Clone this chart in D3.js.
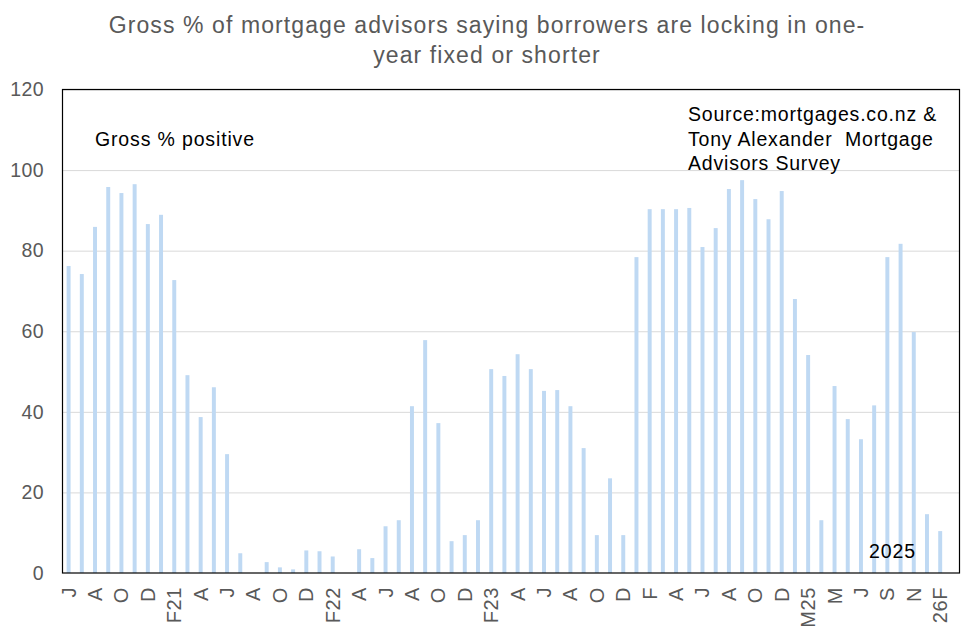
<!DOCTYPE html>
<html>
<head>
<meta charset="utf-8">
<script src="https://cdn.jsdelivr.net/npm/d3@7"></script>
<style>
  body { margin: 0; background: #fff; }
  svg { font-family: "Liberation Sans", Arial, sans-serif; }
</style>
</head>
<body>
<svg id="chart" width="976" height="637"></svg>
<script>
// gross % positive, monthly from Jun 2020 to early 2026
const values = [
  76.2, 74.2, 85.9, 95.8, 94.3, 96.5, 86.6, 88.9, 72.7, 49.1,
  38.7, 46.1, 29.5, 4.9, 0, 2.7, 1.4, 0.9, 5.6, 5.4,
  4.1, 0, 5.9, 3.7, 11.6, 13.1, 41.4, 57.8, 37.2, 7.9,
  9.4, 13.1, 50.6, 48.9, 54.3, 50.6, 45.2, 45.4, 41.4, 31.0,
  9.4, 23.5, 9.4, 78.4, 90.3, 90.3, 90.3, 90.6, 80.9, 85.6,
  95.3, 97.5, 92.8, 87.8, 94.8, 68.0, 54.1, 13.1, 46.4, 38.2,
  33.2, 41.6, 78.4, 81.7, 59.8, 14.6, 10.4
];

// one label on every second bar
const tickLabels = [
  "J", "A", "O", "D", "F21", "A", "J", "A", "O", "D", "F22",
  "A", "J", "A", "O", "D", "F23", "A", "J", "A", "O", "D",
  "F", "A", "J", "A", "O", "D", "M25", "M", "J", "S", "N", "26F"
];

const yTicks = [0, 20, 40, 60, 80, 100, 120];

const titleLines = [
  "Gross % of mortgage advisors saying borrowers are locking in one-",
  "year fixed or shorter"
];
const sourceLines = [
  "Source:mortgages.co.nz &",
  "Tony Alexander  Mortgage",
  "Advisors Survey"
];

var svg = d3.select("#chart"),
  margin = { top: 89.5, right: 16, bottom: 64, left: 62 },
  width = +svg.attr("width"),
  height = +svg.attr("height");

const grey = "#595959";

// spare empty slot at the end, like the original sheet
const x = d3
  .scaleBand()
  .domain(d3.range(values.length + 1))
  .range([margin.left, width - margin.right])
  .paddingInner(0.7)
  .paddingOuter(0.35);

const y = d3
  .scaleLinear()
  .domain([0, 120])
  .range([height - margin.bottom, margin.top]);

// title
svg
  .append("g")
  .selectAll("text")
  .data(titleLines)
  .enter()
  .append("text")
  .attr("x", 487)
  .attr("y", (d, i) => 33 + i * 29.5)
  .attr("text-anchor", "middle")
  .attr("fill", grey)
  .attr("font-size", 23)
  .attr("letter-spacing", 1.1)
  .text((d) => d);

// gridlines
svg
  .append("g")
  .selectAll("line")
  .data(yTicks.slice(1))
  .enter()
  .append("line")
  .attr("x1", margin.left)
  .attr("x2", width - margin.right)
  .attr("y1", (d) => y(d) + 0.5)
  .attr("y2", (d) => y(d) + 0.5)
  .attr("stroke", "#d9d9d9")
  .attr("stroke-width", 1);

// bars
svg
  .append("g")
  .selectAll("rect")
  .data(values)
  .enter()
  .append("rect")
  .attr("x", (d, i) => x(i))
  .attr("y", (d) => y(d))
  .attr("width", x.bandwidth())
  .attr("height", (d) => y(0) - y(d))
  .attr("fill", "#bfd9f3");

// plot frame
svg
  .append("rect")
  .attr("x", margin.left + 0.5)
  .attr("y", margin.top)
  .attr("width", width - margin.right - margin.left - 1)
  .attr("height", y(0) - margin.top)
  .attr("fill", "none")
  .attr("stroke", "#000")
  .attr("stroke-width", 1.2);

// y axis
const yAxis = svg
  .append("g")
  .attr("transform", `translate(${margin.left},0)`)
  .call(d3.axisLeft(y).tickValues(yTicks).tickSize(0).tickPadding(18));
yAxis.select(".domain").remove();
yAxis
  .selectAll("text")
  .attr("font-size", 19.5)
  .attr("letter-spacing", 0.4)
  .attr("font-family", "Liberation Sans, Arial, sans-serif")
  .attr("fill", grey);

// x axis, rotated labels
const xAxis = svg
  .append("g")
  .attr("transform", `translate(0,${y(0)})`)
  .call(
    d3
      .axisBottom(x)
      .tickValues(d3.range(0, values.length, 2))
      .tickFormat((i) => tickLabels[i / 2])
      .tickSize(0)
  );
xAxis.select(".domain").remove();
xAxis
  .selectAll("text")
  .attr("font-size", 20)
  .attr("letter-spacing", 0.6)
  .attr("font-family", "Liberation Sans, Arial, sans-serif")
  .attr("fill", grey)
  .attr("text-anchor", "end")
  .attr("y", 0)
  .attr("dy", "0.35em")
  .attr("transform", "translate(0,14) rotate(-90)");

// annotations
svg
  .append("text")
  .attr("x", 95)
  .attr("y", 146)
  .attr("font-size", 19.5)
  .attr("letter-spacing", 0.85)
  .attr("fill", "#000")
  .text("Gross % positive");

svg
  .append("g")
  .selectAll("text")
  .data(sourceLines)
  .enter()
  .append("text")
  .attr("x", 688)
  .attr("y", (d, i) => 121 + i * 24.7)
  .attr("font-size", 19.5)
  .attr("letter-spacing", 0.8)
  .attr("fill", "#000")
  .style("white-space", "pre")
  .text((d) => d);

svg
  .append("text")
  .attr("x", 869)
  .attr("y", 558)
  .attr("font-size", 19.5)
  .attr("letter-spacing", 0.9)
  .attr("fill", "#000")
  .text("2025");
</script>
</body>
</html>
